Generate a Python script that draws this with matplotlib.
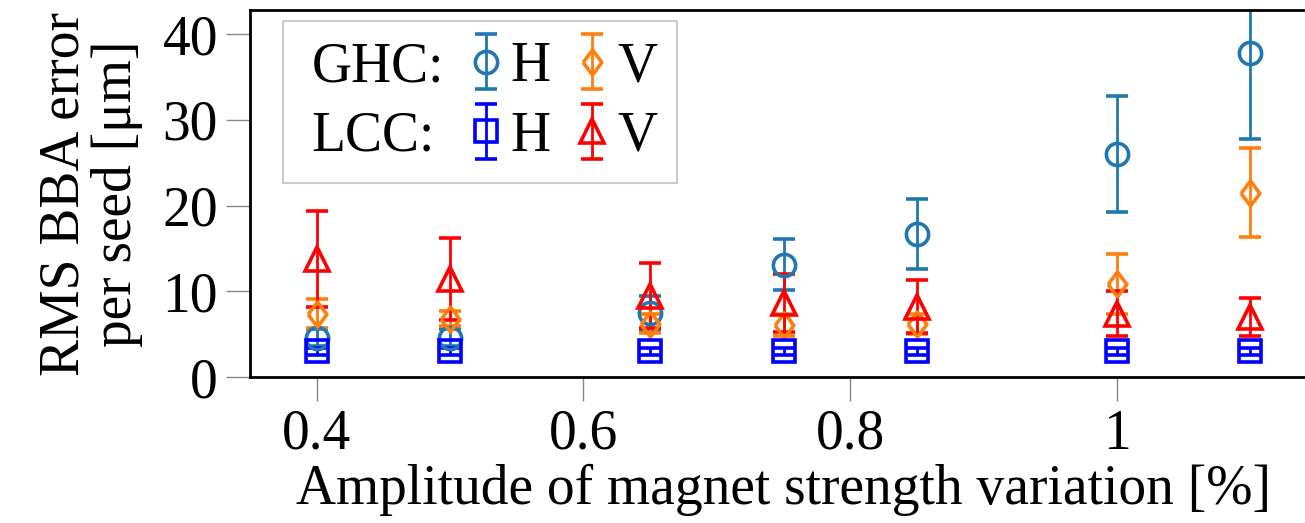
import matplotlib

matplotlib.use("Agg")
import matplotlib.pyplot as plt

# amplitude of magnet strength variation [%]
AMP = [0.4, 0.5, 0.65, 0.75, 0.85, 1.0, 1.1]

# RMS BBA error per seed [um], mean and error
GHC_H = [4.6, 4.6, 7.5, 13.1, 16.7, 26.0, 37.8]
GHC_H_ERR = [1.0, 1.0, 2.0, 3.0, 4.1, 6.8, 10.1]
GHC_V = [7.4, 6.8, 6.2, 6.1, 6.2, 10.9, 21.5]
GHC_V_ERR = [1.7, 0.9, 1.1, 1.3, 1.2, 3.5, 5.2]
LCC_H = [3.0, 3.0, 3.0, 3.0, 3.0, 3.0, 3.0]
LCC_H_ERR = [0.4, 0.4, 0.4, 0.4, 0.4, 0.4, 0.4]
LCC_V = [13.8, 11.4, 9.5, 8.6, 8.2, 7.4, 7.0]
LCC_V_ERR = [5.6, 4.8, 3.8, 3.4, 3.1, 2.6, 2.2]

XTICKS = [0.4, 0.6, 0.8, 1.0]
XTICKLABELS = ["0.4", "0.6", "0.8", "1"]
YTICKS = [0, 10, 20, 30, 40]

plt.rcParams["font.family"] = ["Liberation Serif", "DejaVu Serif"]

fig = plt.figure(figsize=(13.05, 5.23), dpi=100)
ax = fig.add_axes([250 / 1305, 1 - 377 / 523, 1067 / 1305, 367 / 523])

DIAMOND = [(-0.75, 0), (0, 1), (0.75, 0), (0, -1), (-0.75, 0)]
common = dict(ls="none", capsize=8, elinewidth=2, capthick=2.2,
              mew=2.6, mfc="none")
h1 = ax.errorbar(AMP, GHC_H, yerr=GHC_H_ERR, marker="o", ms=16,
                 color="#1f77b4", mec="#1f77b4", **common)
h2 = ax.errorbar(AMP, GHC_V, yerr=GHC_V_ERR, marker=DIAMOND, ms=18,
                 color="#ff7f0e", mec="#ff7f0e", **common)
h3 = ax.errorbar(AMP, LCC_H, yerr=LCC_H_ERR, marker="s", ms=16,
                 color="#0000ff", mec="#0000ff", **common)
h4 = ax.errorbar(AMP, LCC_V, yerr=LCC_V_ERR, marker="^", ms=17,
                 color="#ff0000", mec="#ff0000", **common)

blank = plt.Line2D([], [], alpha=0)
leg = ax.legend([blank, blank, h1, h3, h2, h4],
                ["GHC:", "LCC:", "H", "H", "V", "V"],
                ncol=3, loc="upper left", bbox_to_anchor=(0.031, 0.970),
                borderaxespad=0, fontsize=40, handlelength=0.6,
                handletextpad=0.15, columnspacing=0.45, labelspacing=0.32,
                borderpad=0.36, fancybox=False, edgecolor="#cccccc",
                framealpha=1)
leg.get_frame().set_linewidth(1.5)
# collapse the blank handles in front of the group labels
for row in leg._legend_handle_box.get_children()[0].get_children():
    row.get_children()[0].width = 0

ax.set_xlim(0.35, 1.15)
ax.set_ylim(0, 42.8)
ax.set_xticks(XTICKS)
ax.set_xticklabels(XTICKLABELS)
ax.set_yticks(YTICKS)
ax.tick_params(direction="out", length=17, width=1, color="#888888",
               labelsize=40, pad=6, top=False, right=False)
for s in ax.spines.values():
    s.set_linewidth(2)
ax.set_xlabel("Amplitude of magnet strength variation [%]", fontsize=40,
              labelpad=2)
ax.set_ylabel("RMS BBA error\nper seed [μm]", fontsize=40, labelpad=14,
              linespacing=1.0)

fig.savefig("out.png", dpi=100)
